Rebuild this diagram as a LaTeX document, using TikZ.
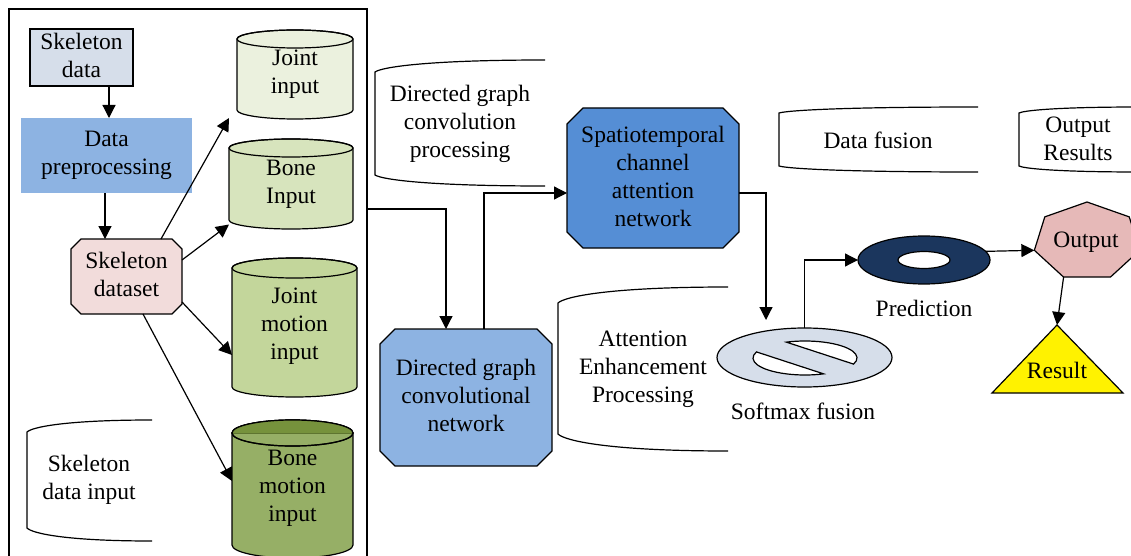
\documentclass[tikz,border=0pt]{standalone}
\usepackage{fontspec}
\setmainfont{Liberation Serif}
\usetikzlibrary{arrows.meta,shapes.geometric,calc}
\definecolor{cSD}{RGB}{214,222,234}
\definecolor{cDP}{RGB}{141,179,226}
\definecolor{cDS}{RGB}{242,220,219}
\definecolor{cJI}{RGB}{235,241,222}
\definecolor{cBI}{RGB}{215,228,189}
\definecolor{cJM}{RGB}{195,214,155}
\definecolor{cBM}{RGB}{150,175,102}
\definecolor{cBMd}{RGB}{118,146,60}
\definecolor{cDG}{RGB}{141,179,226}
\definecolor{cST}{RGB}{85,142,213}
\definecolor{cSM}{RGB}{214,222,234}
\definecolor{cPR}{RGB}{27,54,93}
\definecolor{cOut}{RGB}{230,185,184}
\newcommand\tstrut{\rule[-3.5pt]{0pt}{28pt}}
% octagon: cx cy halfw halfh corner fill
\newcommand\octshape[6]{%
\filldraw[fill=#6] ({#1-#3+#5},{-#2+#4}) -- ({#1+#3-#5},{-#2+#4}) -- ({#1+#3},{-#2+#4-#5}) -- ({#1+#3},{-#2-#4+#5}) -- ({#1+#3-#5},{-#2-#4}) -- ({#1-#3+#5},{-#2-#4}) -- ({#1-#3},{-#2-#4+#5}) -- ({#1-#3},{-#2+#4-#5}) -- cycle;}
% cylinder: L R T B e fill
\newcommand\cylbg[6]{%
\filldraw[fill=#6] (#1,-#3-#5) -- (#1,-#4+#5) arc[start angle=180,end angle=360,x radius={(#2-#1)/2*1pt},y radius=#5pt] -- (#2,-#3-#5) arc[start angle=0,end angle=180,x radius={(#2-#1)/2*1pt},y radius=#5pt] -- cycle;
\draw ({(#1+#2)/2},-#3-#5) ellipse[x radius={(#2-#1)/2*1pt}, y radius=#5pt];}
% open bracket: L R Tleft Tright Bleft Bright
\newcommand\brk[6]{%
\draw (#2,-#4) .. controls ({#1+0.3*(#2-#1)},-#4) and ({#1+0.04*(#2-#1)},{-#4-0.6*(#3-#4)}) .. (#1,-#3) -- (#1,-#5) .. controls ({#1+0.04*(#2-#1)},{-#5-0.4*(#6-#5)}) and ({#1+0.3*(#2-#1)},-#6) .. (#2,-#6);}
\begin{document}
\begin{tikzpicture}[x=1pt,y=1pt,line width=1.2pt,
  every node/.style={font=\fontsize{23.5}{28}\selectfont, align=center, inner sep=0pt, outer sep=0pt,
    execute at begin node=\tstrut, execute at end node=\tstrut},
  arr/.style={-{Triangle[length=13pt,width=13pt]}, line width=1.2pt}]
\useasboundingbox (0,0) rectangle (1131,-556);
% frame
\node[draw, minimum width=358pt, minimum height=561pt] (frame) at (188,-289.5) {};
% shapes
\octshape{126.5}{276.5}{55.5}{37.5}{10}{cDS}
\octshape{466}{397.5}{86}{68.5}{15}{cDG}
\octshape{653}{178}{86}{70}{16}{cST}
\cylbg{237}{353}{30}{119}{9}{cJI}
\cylbg{229}{353}{139}{229}{9}{cBI}
\cylbg{232}{357}{258}{397}{10}{cJM}
\cylbg{232}{353}{420}{558}{13}{cBM}
\fill[cBMd] (353,-433) arc[start angle=0,end angle=180,x radius=60.5pt,y radius=13pt] -- cycle;
\draw[cBMd!80!black, line width=0.6pt] (232,-433) -- (353,-433);
\draw (292.5,-433) ellipse[x radius=60.5pt, y radius=13pt];
% left column
\node[draw, fill=cSD, minimum width=103pt, minimum height=57pt] (sd) at (81.5,-57.5) {Skeleton\\data};
\node[fill=cDP, minimum width=171pt, minimum height=75pt] (dp) at (106.5,-155.5) {Data\\preprocessing};
\node[minimum width=111pt, minimum height=75pt] (ds) at (126.5,-276.5) {Skeleton\\dataset};
\node[minimum width=116pt, minimum height=89pt] (jin) at (295,-74.5) {Joint\\input};
\node[minimum width=124pt, minimum height=90pt] (bin) at (291,-184.5) {Bone\\Input};
\node[minimum width=125pt, minimum height=139pt] (jmin) at (294.5,-326) {Joint\\motion\\input};
\node[minimum width=121pt, minimum height=138pt] (bmin) at (292.5,-488.5) {Bone\\motion\\input};
% brackets
\brk{27}{152}{432}{420}{528}{541}
\brk{375}{545}{72}{60}{175}{186}
\brk{558}{728}{303}{287}{434}{451}
\brk{779}{978}{113}{107}{166}{172}
\brk{1019}{1140}{113}{107}{166}{172}
\node (t5) at (89,-480) {Skeleton\\data input};
\node (t1) at (460,-124) {Directed graph\\convolution\\processing};
\node (t2) at (643,-369) {Attention\\Enhancement\\Processing};
\node (t3) at (878,-138) {Data fusion};
\node (t4) at (1078,-140) {Output\\Results};
% networks
\node[minimum width=172pt, minimum height=137pt] (dgcn) at (466,-397.5) {Directed graph\\convolutional\\network};
\node[minimum width=172pt, minimum height=140pt] (stn) at (653,-178) {Spatiotemporal\\channel\\attention\\network};
% softmax
\node[ellipse, draw, fill=cSM, minimum width=175pt, minimum height=59pt] (sm) at (804.5,-357.5) {};
\coordinate (smc) at (805,-358);
\filldraw[fill=white] ([shift={(-21:52pt and 17pt)}]smc) arc[start angle=-21, end angle=111, x radius=52pt, y radius=17pt] -- cycle;
\filldraw[fill=white] ([shift={(159:52pt and 17pt)}]smc) arc[start angle=159, end angle=291, x radius=52pt, y radius=17pt] -- cycle;
\node (smt) at (803,-409) {Softmax fusion};
% prediction
\node[ellipse, draw, fill=cPR, minimum width=132pt, minimum height=48pt] (pred) at (924,-260) {};
\draw[fill=white] (924,-260) ellipse[x radius=26pt, y radius=8.5pt];
\node (predt) at (924,-306) {Prediction};
% output heptagon
\coordinate (oc) at (1087,-241.5);
\filldraw[fill=cOut] ([shift={(90:54pt and 39.5pt)}]oc) -- ([shift={(141.43:54pt and 39.5pt)}]oc) -- ([shift={(192.86:54pt and 39.5pt)}]oc) -- ([shift={(244.29:54pt and 39.5pt)}]oc) -- ([shift={(295.71:54pt and 39.5pt)}]oc) -- ([shift={(347.14:54pt and 39.5pt)}]oc) -- ([shift={(38.57:54pt and 39.5pt)}]oc) -- cycle;
\coordinate (outL) at ([shift={(192.86:54pt and 39.5pt)}]oc);
\coordinate (outB) at ([shift={(244.29:54pt and 39.5pt)}]oc);
\node (outp) at (1086,-238) {Output};
% result
\coordinate (resT) at (1057,-325);
\filldraw[fill=yellow] (resT) -- (1123,-393) -- (992,-393) -- cycle;
\node (res) at (1057,-368) {Result};
\coordinate (smin) at (766,-320);
% connectors
\draw[arr] ([xshift=27.5pt]sd.south) -- ([xshift=27.5pt]sd.south |- dp.north);
\draw[arr] ([xshift=-1.5pt]dp.south) -- ([xshift=-1.5pt]dp.south |- ds.north);
\draw[arr] ([xshift=-21pt]ds.north east) -- ([xshift=-8pt,yshift=1pt]jin.south west);
\draw[arr] ([yshift=16.5pt]ds.east) -- ([yshift=5pt]bin.south west);
\draw[arr] ([yshift=-25.5pt]ds.east) -- ([yshift=-29pt]jmin.west);
\draw[arr] ([xshift=16.5pt]ds.south) -- ([yshift=7.5pt]bmin.west);
\draw[arr] ([yshift=80.5pt]frame.east) -| ([xshift=-20pt]dgcn.north);
\draw[arr] ([xshift=18pt]dgcn.north) |- ([yshift=-15pt]stn.west);
\draw[arr] ([yshift=-15pt]stn.east) -| (smin);
\draw[arr] (sm.north) |- (pred.west);
\draw[arr] (pred.8) -- (outL);
\draw[arr] (outB) -- (resT);
\end{tikzpicture}
\end{document}
